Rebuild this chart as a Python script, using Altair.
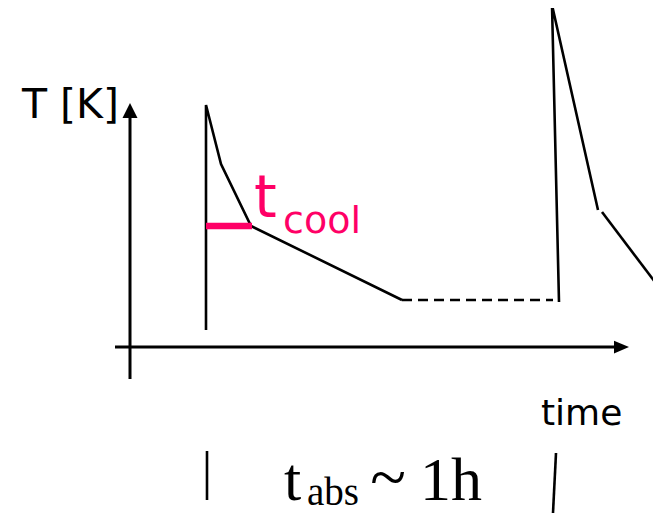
import altair as alt
import pandas as pd

# ---- data (time / temperature in schematic units, origin at axis crossing) ----
seg_id   = ["A", "A", "A", "A", "A", "B", "B", "C", "C", "C", "D", "D"]
seg_dash = ["solid"] * 5 + ["dashed"] * 2 + ["solid"] * 5
time_v   = [76, 76, 91, 121, 272, 272, 423, 429, 422, 468, 472, 531]
temp_v   = [17, 242, 183, 121, 47, 47, 47, 45, 342, 137, 135, 57]

# axes (start/end)
axis_t1 = [0, -15]
axis_t2 = [0, 490]
axis_T1 = [-32, 0]
axis_T2 = [235, 0]
# arrow heads
arrow_t = [0, 491.5]
arrow_T = [236.5, 0]
arrow_dir = ["up", "right"]

# t_cool marker
cool_t1, cool_t2, cool_T = [76], [122], [121]

# t_abs interval ticks
tick_t1 = [77, 426]
tick_t2 = [77, 423]
tick_T1 = [-104, -106]
tick_T2 = [-153, -166]

PINK = "#FF0066"

xs = alt.Scale(domain=[-122, 523], nice=False, zero=False)
ys = alt.Scale(domain=[-167, 339], nice=False, zero=False)

curve = pd.DataFrame({"seg": seg_id, "dash": seg_dash, "t": time_v, "T": temp_v,
                      "idx": list(range(len(time_v)))})

solid = alt.Chart(curve[curve.dash == "solid"]).mark_line(
    color="black", strokeWidth=2.6, clip=True, strokeCap="butt"
).encode(
    x=alt.X("t:Q", scale=xs, axis=None),
    y=alt.Y("T:Q", scale=ys, axis=None),
    detail="seg:N",
    order="idx:Q",
)

dashed = alt.Chart(curve[curve.dash == "dashed"]).mark_line(
    color="black", strokeWidth=2.6, strokeDash=[10, 6], clip=True
).encode(
    x=alt.X("t:Q", scale=xs, axis=None),
    y=alt.Y("T:Q", scale=ys, axis=None),
    order="idx:Q",
)

axes_df = pd.DataFrame({"t1": axis_t1, "t2": axis_t2, "T1": axis_T1, "T2": axis_T2})
axes = alt.Chart(axes_df).mark_rule(color="black", strokeWidth=3).encode(
    x=alt.X("t1:Q", scale=xs, axis=None), x2="t2:Q",
    y=alt.Y("T1:Q", scale=ys, axis=None), y2="T2:Q",
)

arr_df = pd.DataFrame({"t": arrow_t, "T": arrow_T, "dir": arrow_dir})
arrow_up = alt.Chart(arr_df[arr_df.dir == "up"]).mark_point(
    shape="M0,-1L1,1L-1,1Z", filled=True, size=225, color="black", opacity=1
).encode(x=alt.X("t:Q", scale=xs, axis=None), y=alt.Y("T:Q", scale=ys, axis=None))
arrow_right = alt.Chart(arr_df[arr_df.dir == "right"]).mark_point(
    shape="M1,0L-1,-0.85L-1,0.85Z", filled=True, size=225, color="black", opacity=1
).encode(x=alt.X("t:Q", scale=xs, axis=None), y=alt.Y("T:Q", scale=ys, axis=None))

cool_df = pd.DataFrame({"t1": cool_t1, "t2": cool_t2, "T": cool_T})
cool_bar = alt.Chart(cool_df).mark_rule(color=PINK, strokeWidth=6.5).encode(
    x=alt.X("t1:Q", scale=xs, axis=None), x2="t2:Q",
    y=alt.Y("T:Q", scale=ys, axis=None),
)

tick_df = pd.DataFrame({"t1": tick_t1, "t2": tick_t2, "T1": tick_T1, "T2": tick_T2})
ticks = alt.Chart(tick_df).mark_rule(color="black", strokeWidth=2.6).encode(
    x=alt.X("t1:Q", scale=xs, axis=None), x2="t2:Q",
    y=alt.Y("T1:Q", scale=ys, axis=None), y2="T2:Q",
)

# ---- text labels ----
label_text  = ["T [K]", "time", "t", "cool", "t", "abs", "~", "1h"]
label_font  = ["DejaVu Sans", "DejaVu Sans", "DejaVu Sans", "DejaVu Sans",
               "Liberation Serif", "Liberation Serif", "Liberation Serif", "Liberation Serif"]
label_size  = [41, 36, 58, 38, 62, 39, 66, 62]
label_color = ["black", "black", PINK, PINK, "black", "black", "black", "black"]
label_align = ["left", "left", "left", "left", "left", "left", "center", "left"]
label_x     = [14, 533, 246, 275, 276, 299, 380, 412]
label_y     = [110, 417, 209, 225, 492, 497, 491, 492]

texts = []
for i, lab in enumerate(label_text):
    texts.append(
        alt.Chart(pd.DataFrame({"label": [lab]})).mark_text(
            font=label_font[i], fontSize=label_size[i], color=label_color[i],
            align=label_align[i], baseline="alphabetic",
        ).encode(x=alt.value(label_x[i]), y=alt.value(label_y[i]), text="label:N")
    )

chart = alt.layer(axes, arrow_up, arrow_right, solid, dashed, cool_bar, ticks, *texts).properties(
    width=645, height=506, padding=0, autosize=alt.AutoSizeParams(type="none"),
    background="white",
).configure_view(stroke=None)

chart.save("out.html", embed_options={"renderer": "svg", "actions": False})
